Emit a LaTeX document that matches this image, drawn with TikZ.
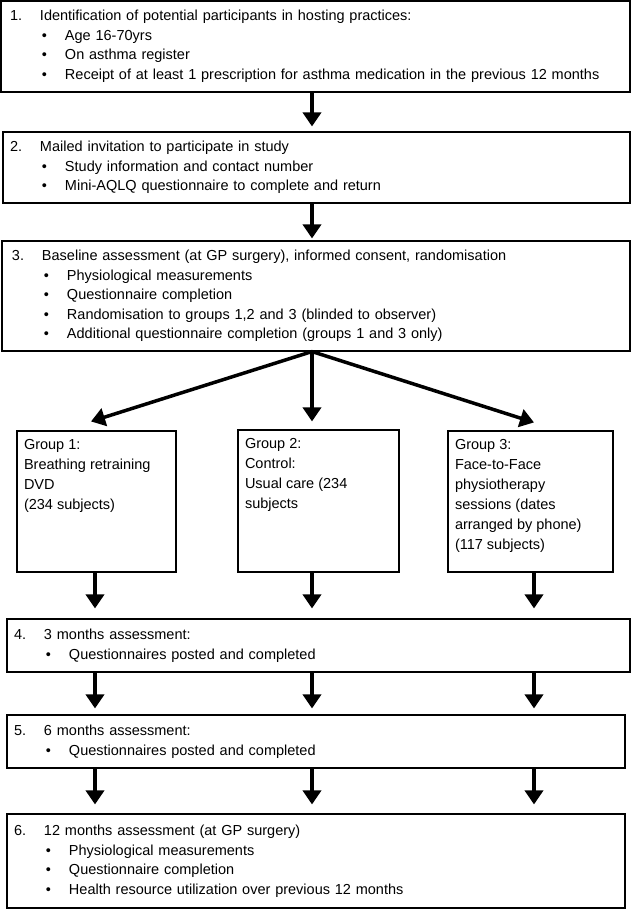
\documentclass[tikz,border=0pt]{standalone}
\usepackage{fontspec}
\setmainfont{Liberation Sans}
\usetikzlibrary{arrows.meta}

\newcommand{\stagehead}[2]{\makebox[30pt][l]{#1}#2}
\newcommand{\stageitem}[1]{\\\hspace*{32pt}\makebox[23pt][l]{\textbullet}#1}

\tikzset{
	stage/.style={draw, line width=1.1pt, rectangle, align=left, inner ysep=0pt, font=\fontsize{14.5}{19.5}\selectfont},
	group/.style={draw, line width=1.1pt, rectangle, inner xsep=7pt, inner ysep=8pt, font=\fontsize{14.5}{20}\selectfont},
	flow/.style={line width=3.5pt, -{Triangle[width=18pt,length=14pt]}}
}

\begin{document}
\begin{tikzpicture}[x=1pt,y=-1pt]
	\useasboundingbox (0,0) rectangle (631,910);
	\node (s1) [stage, inner xsep=9pt, text width=611pt, minimum height=91pt] at (315.5,46.5)
		{\stagehead{1.}{Identification of potential participants in hosting practices:}
		\stageitem{Age 16-70yrs}
		\stageitem{On asthma register}
		\stageitem{Receipt of at least 1 prescription for asthma medication in the previous 12 months}};
	\node (s2) [stage, inner xsep=7pt, text width=613pt, minimum height=71pt] at (316.5,167.5)
		{\stagehead{2.}{Mailed invitation to participate in study}
		\stageitem{Study information and contact number}
		\stageitem{Mini-AQLQ questionnaire to complete and return}};
	\node (s3) [stage, inner xsep=10pt, text width=608pt, minimum height=110pt] at (316,296)
		{\stagehead{3.}{Baseline assessment (at GP surgery), informed consent, randomisation}
		\stageitem{Physiological measurements}
		\stageitem{Questionnaire completion}
		\stageitem{Randomisation to groups 1,2 and 3 (blinded to observer)}
		\stageitem{Additional questionnaire completion (groups 1 and 3 only)}};
	\node (g1) [group] at (96.5,501.5)
		{\parbox[c][125pt][t]{145pt}{\raggedright Group 1:\\Breathing retraining\\DVD\\(234 subjects)}};
	\node (g2) [group] at (318.5,501)
		{\parbox[c][126pt][t]{147pt}{\raggedright Group 2:\\Control:\\Usual care (234\\subjects}};
	\node (g3) [group] at (530.5,501.5)
		{\parbox[c][125pt][t]{151pt}{\raggedright Group 3:\\Face-to-Face\\physiotherapy\\sessions (dates\\arranged by phone)\\(117 subjects)}};
	\node (s4) [stage, inner xsep=7pt, text width=609pt, minimum height=53pt] at (318.5,645.5)
		{\stagehead{4.}{3 months assessment:}
		\stageitem{Questionnaires posted and completed}};
	\node (s5) [stage, inner xsep=7pt, text width=604pt, minimum height=53pt] at (316,741.5)
		{\stagehead{5.}{6 months assessment:}
		\stageitem{Questionnaires posted and completed}};
	\node (s6) [stage, inner xsep=7pt, text width=604pt, minimum height=94pt] at (316,861)
		{\stagehead{6.}{12 months assessment (at GP surgery)}
		\stageitem{Physiological measurements}
		\stageitem{Questionnaire completion}
		\stageitem{Health resource utilization over previous 12 months}};
	\coordinate (colL) at (95,0);
	\coordinate (colM) at (312,0);
	\coordinate (colR) at (534,0);
	\draw[flow, shorten >=5pt] (s1.south -| colM) -- (s2.north -| colM);
	\draw[flow, shorten >=2pt] (s2.south -| colM) -- (s3.north -| colM);
	\draw[flow] (s3.south -| colM) -- ([xshift=-5.5pt,yshift=9pt]g1.north);
	\draw[flow, shorten >=8pt] (s3.south -| colM) -- (g2.north -| colM);
	\draw[flow] (s3.south -| colM) -- ([xshift=3.5pt,yshift=8pt]g3.north);
	\draw[flow, shorten >=10pt] (g1.south -| colL) -- (s4.north -| colL);
	\draw[flow, shorten >=10pt] (g2.south -| colM) -- (s4.north -| colM);
	\draw[flow, shorten >=10pt] (g3.south -| colR) -- (s4.north -| colR);
	\draw[flow, shorten >=6pt] (s4.south -| colL) -- (s5.north -| colL);
	\draw[flow, shorten >=6pt] (s4.south -| colM) -- (s5.north -| colM);
	\draw[flow, shorten >=6pt] (s4.south -| colR) -- (s5.north -| colR);
	\draw[flow, shorten >=9pt] (s5.south -| colL) -- (s6.north -| colL);
	\draw[flow, shorten >=9pt] (s5.south -| colM) -- (s6.north -| colM);
	\draw[flow, shorten >=9pt] (s5.south -| colR) -- (s6.north -| colR);
\end{tikzpicture}
\end{document}
